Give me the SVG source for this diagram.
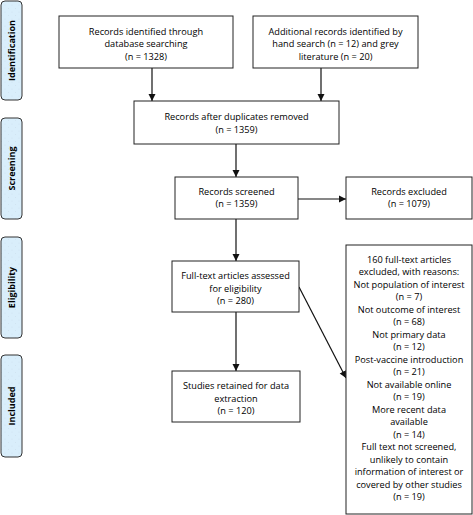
<svg xmlns="http://www.w3.org/2000/svg" width="473" height="515" viewBox="0 0 473 515">
<style>
.box{fill:#fff;stroke:#222;stroke-width:1}
.side{stroke:#333;stroke-width:1}
.t{font-family:"Open Sans","Liberation Sans",sans-serif;font-size:9.2px;fill:#000;text-anchor:middle}
.s{font-family:"Open Sans","Liberation Sans",sans-serif;font-size:9px;font-weight:bold;fill:#000;text-anchor:middle}
.c{stroke:#111;stroke-width:1.2;fill:none}
</style>
<defs>
<marker id="ah" markerWidth="8" markerHeight="8" refX="7" refY="4" orient="auto" markerUnits="userSpaceOnUse">
<path d="M0,0.5 L7,4 L0,7.5 z" fill="#111"/>
</marker>
<pattern id="dots" width="7" height="7" patternUnits="userSpaceOnUse">
<rect width="7" height="7" fill="#d9eefb"/>
<circle cx="1.5" cy="1.5" r="0.35" fill="#bcc6d6"/>
<circle cx="5" cy="5" r="0.35" fill="#bcc6d6"/>
</pattern>
</defs>
<rect width="473" height="515" fill="#fff"/>

<g id="side-identification"><rect class="side" x="1" y="1" width="21" height="99" rx="4" style="fill:url(#dots)"/><text class="s" transform="translate(15,50.5) rotate(-90)">Identification</text></g>
<g id="side-screening"><rect class="side" x="1" y="118" width="21" height="101" rx="4" style="fill:url(#dots)"/><text class="s" transform="translate(15,168.5) rotate(-90)">Screening</text></g>
<g id="side-eligibility"><rect class="side" x="1" y="237" width="21" height="101" rx="4" style="fill:url(#dots)"/><text class="s" transform="translate(15,287.5) rotate(-90)">Eligibility</text></g>
<g id="side-included"><rect class="side" x="1" y="355" width="21" height="102" rx="4" style="fill:url(#dots)"/><text class="s" transform="translate(15,406) rotate(-90)">Included</text></g>

<g id="connectors">
<line class="c" x1="152" y1="68" x2="152" y2="101" marker-end="url(#ah)"/>
<line class="c" x1="321" y1="68" x2="321" y2="101" marker-end="url(#ah)"/>
<line class="c" x1="236" y1="144" x2="236" y2="177" marker-end="url(#ah)"/>
<line class="c" x1="298" y1="199" x2="346" y2="199" marker-end="url(#ah)"/>
<line class="c" x1="236" y1="219" x2="236" y2="261" marker-end="url(#ah)"/>
<line class="c" x1="236" y1="312" x2="236" y2="371" marker-end="url(#ah)"/>
<line class="c" x1="299" y1="287" x2="346" y2="378" marker-end="url(#ah)"/>
</g>

<g id="n1"><rect class="box" x="59" y="16" width="174" height="52"/>
<text class="t" x="146" y="34.5">Records identified through</text>
<text class="t" x="146" y="47">database searching</text>
<text class="t" x="146" y="59.5">(n = 1328)</text></g>

<g id="n2"><rect class="box" x="253" y="16" width="165" height="52"/>
<text class="t" x="335.5" y="34.5">Additional records identified by</text>
<text class="t" x="335.5" y="47">hand search (n = 12) and grey</text>
<text class="t" x="335.5" y="59.5">literature (n = 20)</text></g>

<g id="n3"><rect class="box" x="134" y="101" width="205" height="43"/>
<text class="t" x="236.5" y="120">Records after duplicates removed</text>
<text class="t" x="236.5" y="132.5">(n = 1359)</text></g>

<g id="n4"><rect class="box" x="175" y="177" width="123" height="42"/>
<text class="t" x="236.5" y="194.5">Records screened</text>
<text class="t" x="236.5" y="207">(n = 1359)</text></g>

<g id="n5"><rect class="box" x="346" y="177" width="126" height="42"/>
<text class="t" x="409" y="194.5">Records excluded</text>
<text class="t" x="409" y="207">(n = 1079)</text></g>

<g id="n6"><rect class="box" x="172" y="261" width="127" height="51"/>
<text class="t" x="235.5" y="279">Full-text articles assessed</text>
<text class="t" x="235.5" y="291.5">for eligibility</text>
<text class="t" x="235.5" y="304">(n = 280)</text></g>

<g id="n7"><rect class="box" x="172" y="371" width="128" height="51"/>
<text class="t" x="236" y="389">Studies retained for data</text>
<text class="t" x="236" y="401.5">extraction</text>
<text class="t" x="236" y="414">(n = 120)</text></g>

<g id="n8"><rect class="box" x="346" y="245" width="126" height="269"/>
<text class="t" x="409" y="262.5">160 full-text articles</text>
<text class="t" x="409" y="275">excluded, with reasons:</text>
<text class="t" x="409" y="287.5">Not population of interest</text>
<text class="t" x="409" y="300">(n =  7)</text>
<text class="t" x="409" y="312.5">Not outcome of interest</text>
<text class="t" x="409" y="325">(n =  68)</text>
<text class="t" x="409" y="337.5">Not primary data</text>
<text class="t" x="409" y="350">(n =  12)</text>
<text class="t" x="409" y="362.5">Post-vaccine introduction</text>
<text class="t" x="409" y="375">(n =  21)</text>
<text class="t" x="409" y="387.5">Not available online</text>
<text class="t" x="409" y="400">(n =  19)</text>
<text class="t" x="409" y="412.5">More recent data</text>
<text class="t" x="409" y="425">available</text>
<text class="t" x="409" y="437.5">(n =  14)</text>
<text class="t" x="409" y="450">Full text not screened,</text>
<text class="t" x="409" y="462.5">unlikely to contain</text>
<text class="t" x="409" y="475">information of interest or</text>
<text class="t" x="409" y="487.5">covered by other studies</text>
<text class="t" x="409" y="500">(n = 19)</text></g>
</svg>
